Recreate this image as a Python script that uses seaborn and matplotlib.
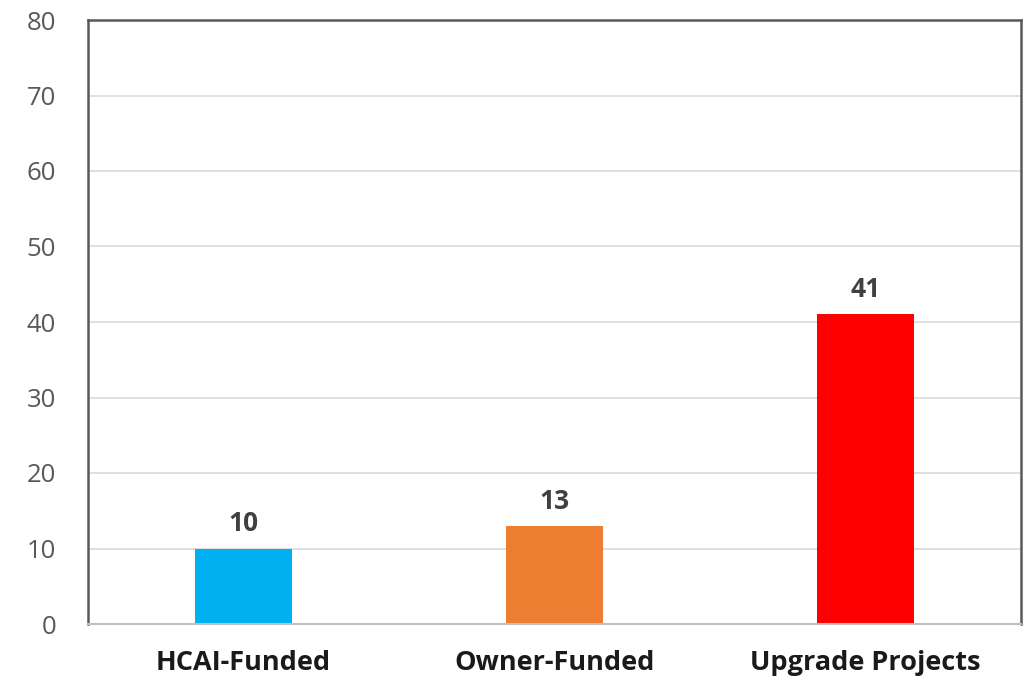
import matplotlib
matplotlib.use("Agg")
import matplotlib.pyplot as plt
import seaborn as sns
import pandas as pd

categories = ["HCAI-Funded", "Owner-Funded", "Upgrade Projects"]
values = [10, 13, 41]
colors = ["#00B0F0", "#ED7D31", "#FF0000"]
yticks = [0, 10, 20, 30, 40, 50, 60, 70, 80]

sns.set_theme(style="white")
plt.rcParams['font.family'] = ['Open Sans', 'DejaVu Sans']

df = pd.DataFrame({"cat": categories, "val": values})

fig = plt.figure(figsize=(10.23, 6.82), dpi=100)
ax = fig.add_axes([88/1023, 58/682, (1021-88)/1023, (624-20)/682])

sns.barplot(data=df, x="cat", y="val", hue="cat", palette=colors, legend=False,
            width=0.31, ax=ax, saturation=1, linewidth=0)

ax.set_ylim(0, 80)
ax.set_xlim(-0.5, 2.5)
ax.set_yticks(yticks)
ax.yaxis.grid(True, color="#d9d9d9", linewidth=1.2)
ax.set_axisbelow(True)
ax.set_xlabel("")
ax.set_ylabel("")

for side in ["top", "left", "right"]:
    ax.spines[side].set_color("#595959")
    ax.spines[side].set_linewidth(1.8)
ax.spines["bottom"].set_color("#bfbfbf")
ax.spines["bottom"].set_linewidth(1.5)

ax.tick_params(axis="y", labelsize=18.5, colors="#595959", length=0, pad=23)
ax.tick_params(axis="x", labelsize=19.5, length=0, pad=19)
for lbl in ax.get_xticklabels():
    lbl.set_fontweight("bold")
    lbl.set_color("#1a1a1a")

for i, v in enumerate(values):
    ax.annotate(str(v), (i, v), xytext=(0, 8), textcoords="offset points",
                ha="center", va="bottom", fontsize=19, fontweight="bold", color="#404040")

fig.savefig("out.png", dpi=100)
